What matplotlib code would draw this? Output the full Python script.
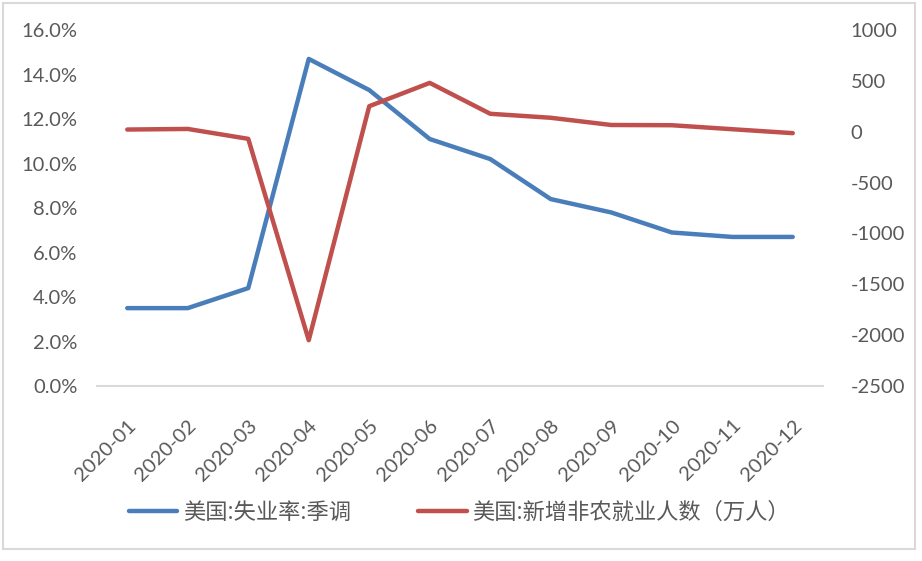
import matplotlib
matplotlib.use("Agg")
import matplotlib.pyplot as plt
from matplotlib.patches import Rectangle
from matplotlib.ticker import FuncFormatter, MultipleLocator

plt.rcParams['font.family'] = ['Lato', 'Noto Sans CJK SC', 'DejaVu Sans']
plt.rcParams['axes.unicode_minus'] = False

# 2020 monthly data
months = ['2020-01', '2020-02', '2020-03', '2020-04', '2020-05', '2020-06',
          '2020-07', '2020-08', '2020-09', '2020-10', '2020-11', '2020-12']
unemployment = [3.5, 3.5, 4.4, 14.7, 13.3, 11.1, 10.2, 8.4, 7.8, 6.9, 6.7, 6.7]
nonfarm = [21.4, 27.3, -70.1, -2050.0, 250.9, 480.0, 176.3, 137.1, 66.1, 63.8, 24.5, -14.0]

label_blue = '美国:失业率:季调'
label_red = '美国:新增非农就业人数（万人）'

grey = '#595959'
blue = '#4A7EBB'
red = '#C0504D'

fig = plt.figure(figsize=(9.22, 5.61), dpi=100)
ax = fig.add_axes([97 / 922, 1 - 386 / 561, 726 / 922, 356 / 561])
ax2 = ax.twinx()

x = range(len(months))
l1, = ax.plot(x, unemployment, color=blue, lw=3.2, solid_capstyle='round', solid_joinstyle='round')
l2, = ax2.plot(x, nonfarm, color=red, lw=3.2, solid_capstyle='round', solid_joinstyle='round')

ax.set_xlim(-0.5, len(months) - 0.5)
ax.set_ylim(0, 16)
ax.yaxis.set_major_locator(MultipleLocator(2))
ax.yaxis.set_major_formatter(FuncFormatter(lambda v, p: f'{v:.1f}%'))
ax2.set_ylim(-2500, 1000)
ax2.yaxis.set_major_locator(MultipleLocator(500))

ax.set_xticks(list(x))
ax.set_xticklabels(months, rotation=45, ha='right', va='top', rotation_mode='anchor')

for a in (ax, ax2):
    for s in a.spines.values():
        s.set_visible(False)
    a.tick_params(length=0, labelsize=14.5, labelcolor=grey)
ax.spines['bottom'].set_visible(True)
ax.spines['bottom'].set_color('#D9D9D9')
ax.spines['bottom'].set_linewidth(1.5)
ax.tick_params(axis='y', pad=14)
ax.tick_params(axis='x', pad=22)
ax2.tick_params(axis='y', pad=20)

fig.legend([l1, l2], [label_blue, label_red], loc='center', bbox_to_anchor=(0.498, 0.086),
           ncol=2, frameon=False, labelcolor=grey, handlelength=2.2,
           handletextpad=0.25, columnspacing=3.0, prop={'family': ['Noto Sans CJK SC'], 'size': 16})

fig.patches.append(Rectangle((3 / 922, 1 - 549 / 561), 912 / 922, 546 / 561,
                             transform=fig.transFigure, fill=False,
                             edgecolor='#D9D9D9', lw=1.5))

fig.savefig('out.png', dpi=100)
